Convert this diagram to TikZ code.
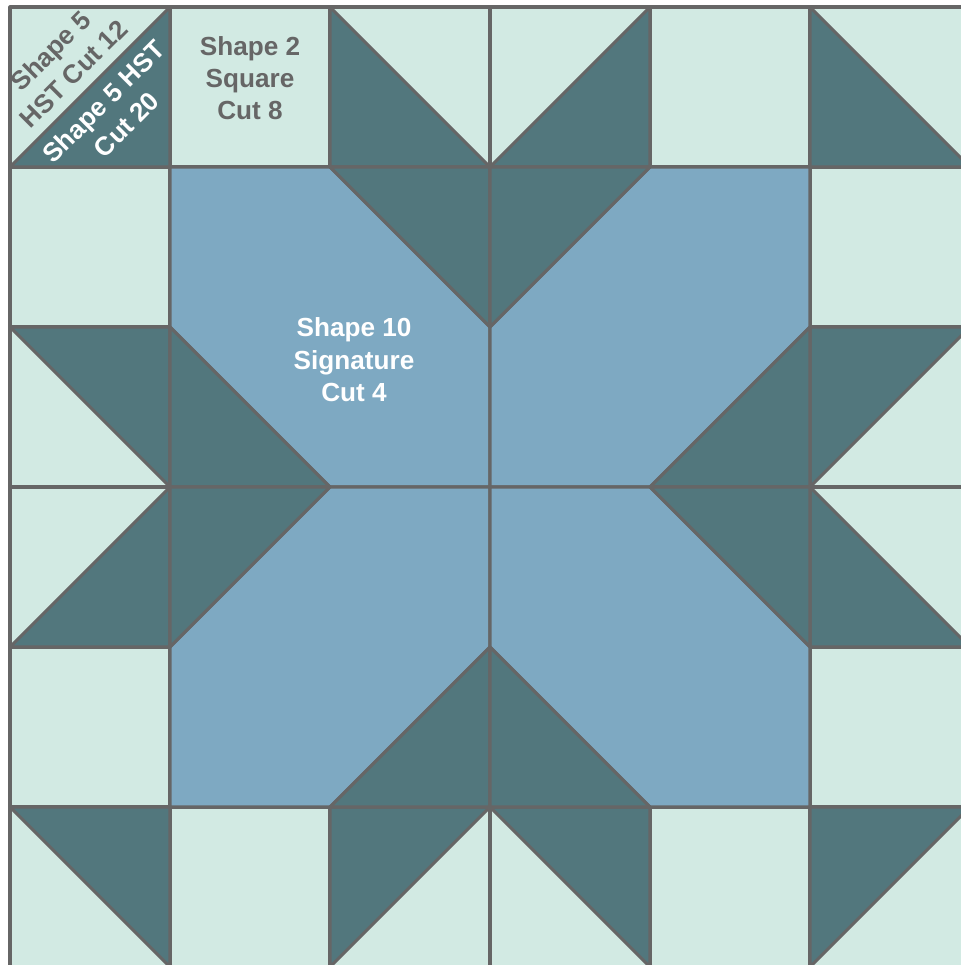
\documentclass[tikz,border=0pt]{standalone}
\usepackage{fontspec}
\setsansfont{Liberation Sans}

\definecolor{mintlight}{HTML}{D2EAE3}
\definecolor{tealdark}{HTML}{52777D}
\definecolor{quiltblue}{HTML}{7EA9C2}
\definecolor{seamgray}{HTML}{666666}

\tikzset{
    patch/.style={draw=seamgray, line width=1.1pt, line join=round},
    cutlabel/.style={font=\sffamily\bfseries\fontsize{9.3}{11.5}\selectfont, align=center, inner sep=0pt},
}

\begin{document}
\begin{tikzpicture}[x=2cm, y=2cm]
        \useasboundingbox (-0.0625,0.0125) rectangle (5.94375,6.04375);

        % Background squares
        \foreach \i in {0,...,5} {
            \foreach \j in {0,...,5} {
                \draw[patch, fill=mintlight] (\i,\j) rectangle (\i+1,\j+1);
            }
        }

        % Four mirrored quarters of the block
        \foreach \sx/\sy in {1/1, -1/1, 1/-1, -1/-1} {
            \begin{scope}[shift={(3,3)}, xscale=\sx, yscale=\sy, shift={(-3,-3)}]
                % Signature piece
                \draw[patch, fill=quiltblue] (1,5) -- (2,5) -- (3,4) -- (3,3) -- (2,3) -- (1,4) -- cycle;
                % HST halves
                \draw[patch, fill=tealdark] (0,5) -- (1,5) -- (1,6) -- cycle;
                \draw[patch, fill=tealdark] (2,6) -- (2,5) -- (3,5) -- cycle;
                \draw[patch, fill=tealdark] (2,5) -- (3,5) -- (3,4) -- cycle;
                \draw[patch, fill=tealdark] (0,4) -- (1,4) -- (1,3) -- cycle;
                \draw[patch, fill=tealdark] (1,4) -- (2,3) -- (1,3) -- cycle;
            \end{scope}
        }

        % Labels
        \node[cutlabel, text=seamgray] (square) at (1.5, 5.556) {Shape 2\\Square\\Cut 8};
        \node[cutlabel, text=white] (signature) at (2.15, 3.794) {Shape 10\\Signature\\Cut 4};
        \node[cutlabel, text=seamgray, rotate=45] (hstlight) at (0.325, 5.656) {Shape 5\\HST Cut 12};
        \node[cutlabel, text=white, rotate=45] (hstdark) at (0.656, 5.3375) {Shape 5 HST\\Cut 20};

\end{tikzpicture}
\end{document}
